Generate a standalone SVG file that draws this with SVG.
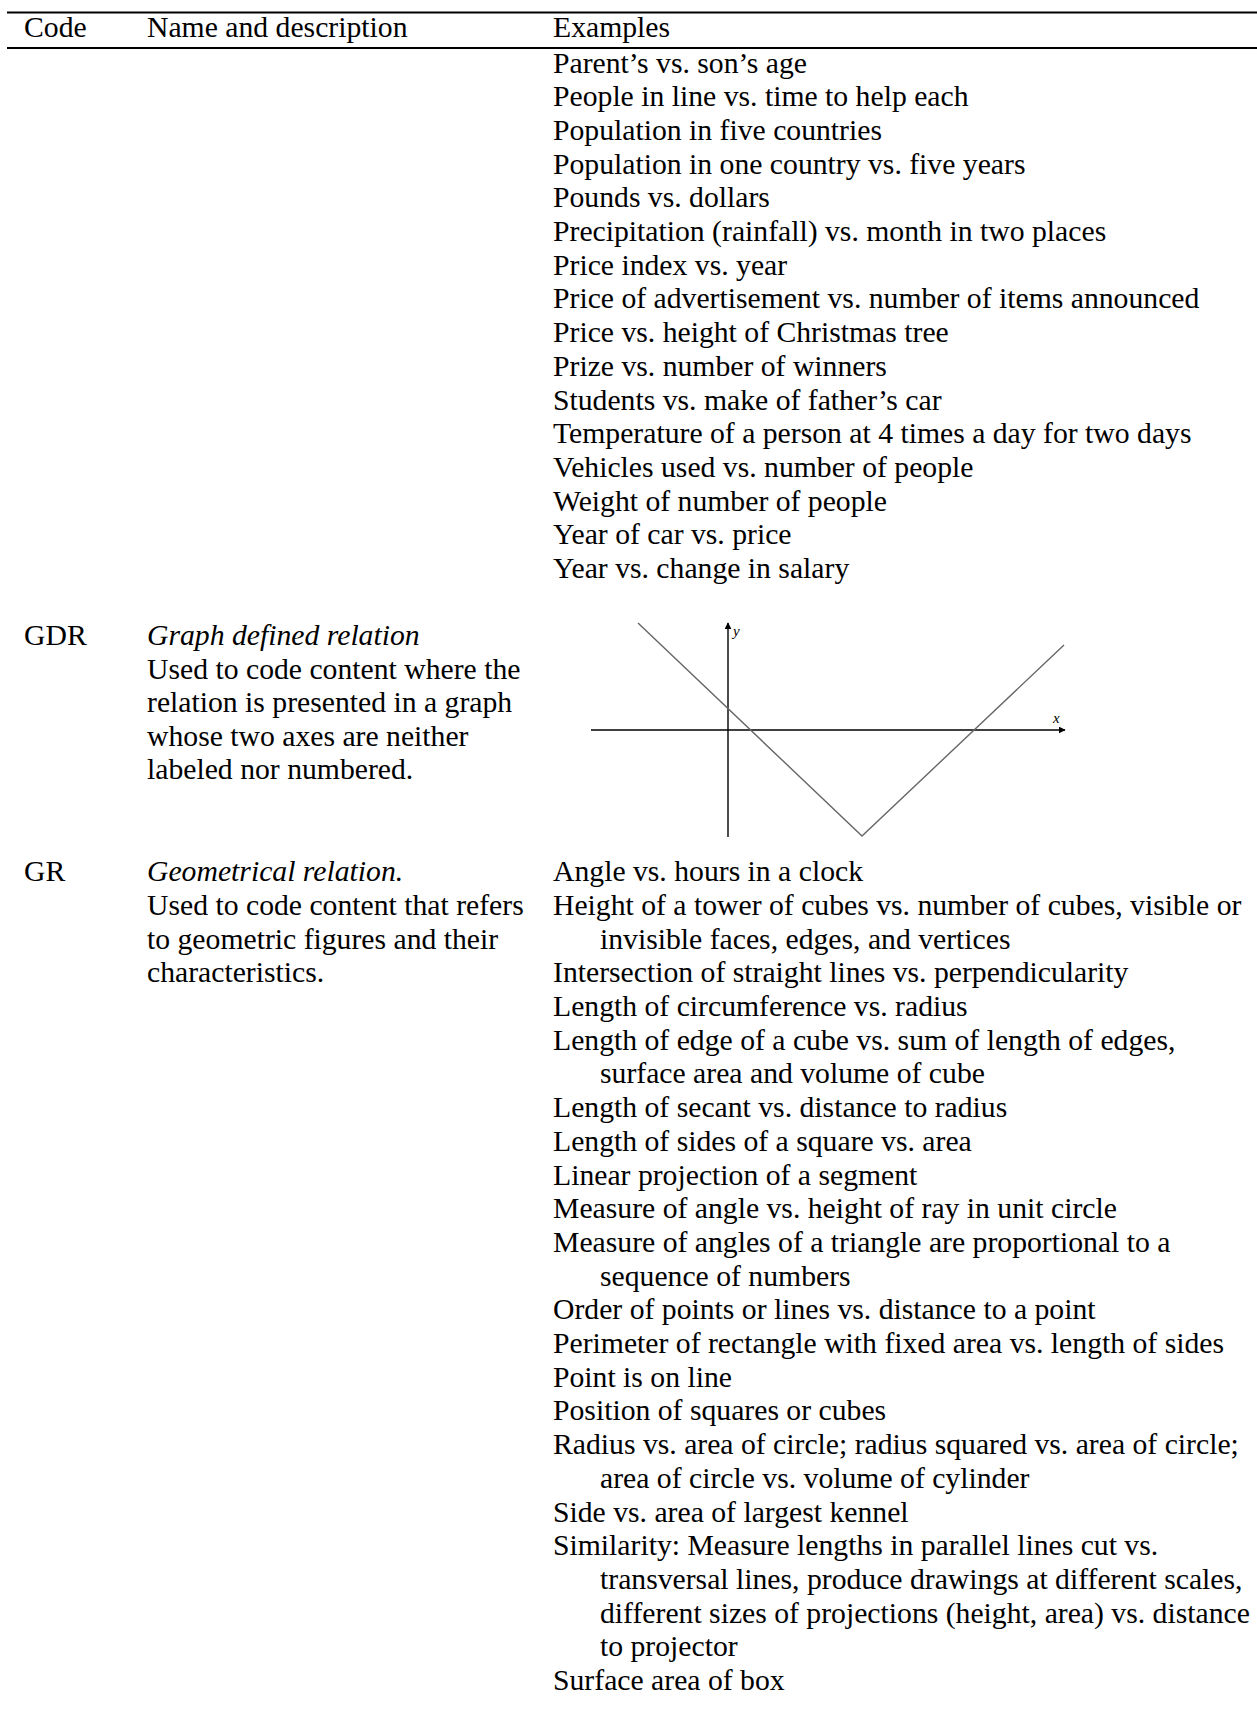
<svg xmlns="http://www.w3.org/2000/svg" width="1257" height="1726" viewBox="0 0 1257 1726">
<style>
text{font-family:"Liberation Serif","Times New Roman",serif;font-size:29.7px;fill:#000}
.it{font-style:italic}
.rule{stroke:#000;stroke-width:2}
.axis{stroke:#000;stroke-width:1.4;fill:none}
.curve{stroke:#666;stroke-width:1.4;fill:none}
.lbl{font-size:15px;font-style:italic}
</style>
<defs>
<marker id="arr" viewBox="0 0 10 10" refX="9" refY="5" markerWidth="7" markerHeight="7" markerUnits="userSpaceOnUse" orient="auto">
<path d="M0,0 L10,5 L0,10 z" fill="#000"/>
</marker>
</defs>
<g id="rules">
<line class="rule" x1="7" y1="12.5" x2="1257" y2="12.5"/>
<line class="rule" x1="7" y1="48" x2="1257" y2="48"/>
</g>
<g id="header">
<text x="24" y="36.7">Code</text>
<text x="147" y="36.7">Name and description</text>
<text x="553" y="36.7">Examples</text>
</g>
<g id="row-continued">
<text x="553" y="72.5">Parent’s vs. son’s age</text>
<text x="553" y="106.2">People in line vs. time to help each</text>
<text x="553" y="139.9">Population in five countries</text>
<text x="553" y="173.6">Population in one country vs. five years</text>
<text x="553" y="207.3">Pounds vs. dollars</text>
<text x="553" y="241">Precipitation (rainfall) vs. month in two places</text>
<text x="553" y="274.7">Price index vs. year</text>
<text x="553" y="308.4">Price of advertisement vs. number of items announced</text>
<text x="553" y="342.1">Price vs. height of Christmas tree</text>
<text x="553" y="375.8">Prize vs. number of winners</text>
<text x="553" y="409.5">Students vs. make of father’s car</text>
<text x="553" y="443.2">Temperature of a person at 4 times a day for two days</text>
<text x="553" y="476.9">Vehicles used vs. number of people</text>
<text x="553" y="510.6">Weight of number of people</text>
<text x="553" y="544.3">Year of car vs. price</text>
<text x="553" y="578">Year vs. change in salary</text>
</g>
<g id="row-GDR">
<text x="24" y="645">GDR</text>
<text class="it" x="147" y="645">Graph defined relation</text>
<text x="147" y="678.5">Used to code content where the</text>
<text x="147" y="712">relation is presented in a graph</text>
<text x="147" y="745.5">whose two axes are neither</text>
<text x="147" y="779">labeled nor numbered.</text>
</g>
<g id="graph">
<line class="axis" x1="591" y1="730" x2="1065" y2="730" marker-end="url(#arr)"/>
<line class="axis" x1="728" y1="837" x2="728" y2="623" marker-end="url(#arr)"/>
<polyline class="curve" points="638,623 862,836 1064,645"/>
<text class="lbl" x="733" y="636">y</text>
<text class="lbl" x="1053" y="723">x</text>
</g>
<g id="row-GR">
<text x="24" y="881.2">GR</text>
<text class="it" x="147" y="881.2">Geometrical relation.</text>
<text x="147" y="914.9">Used to code content that refers</text>
<text x="147" y="948.6">to geometric figures and their</text>
<text x="147" y="982.3">characteristics.</text>
<text x="553" y="881.2">Angle vs. hours in a clock</text>
<text x="553" y="914.9">Height of a tower of cubes vs. number of cubes, visible or</text>
<text x="600" y="948.6">invisible faces, edges, and vertices</text>
<text x="553" y="982.3">Intersection of straight lines vs. perpendicularity</text>
<text x="553" y="1016">Length of circumference vs. radius</text>
<text x="553" y="1049.7">Length of edge of a cube vs. sum of length of edges,</text>
<text x="600" y="1083.4">surface area and volume of cube</text>
<text x="553" y="1117.1">Length of secant vs. distance to radius</text>
<text x="553" y="1150.8">Length of sides of a square vs. area</text>
<text x="553" y="1184.5">Linear projection of a segment</text>
<text x="553" y="1218.2">Measure of angle vs. height of ray in unit circle</text>
<text x="553" y="1251.9">Measure of angles of a triangle are proportional to a</text>
<text x="600" y="1285.6">sequence of numbers</text>
<text x="553" y="1319.3">Order of points or lines vs. distance to a point</text>
<text x="553" y="1353">Perimeter of rectangle with fixed area vs. length of sides</text>
<text x="553" y="1386.7">Point is on line</text>
<text x="553" y="1420.4">Position of squares or cubes</text>
<text x="553" y="1454.1">Radius vs. area of circle; radius squared vs. area of circle;</text>
<text x="600" y="1487.8">area of circle vs. volume of cylinder</text>
<text x="553" y="1521.5">Side vs. area of largest kennel</text>
<text x="553" y="1555.2">Similarity: Measure lengths in parallel lines cut vs.</text>
<text x="600" y="1588.9">transversal lines, produce drawings at different scales,</text>
<text x="600" y="1622.6">different sizes of projections (height, area) vs. distance</text>
<text x="600" y="1656.3">to projector</text>
<text x="553" y="1690">Surface area of box</text>
</g>
</svg>
